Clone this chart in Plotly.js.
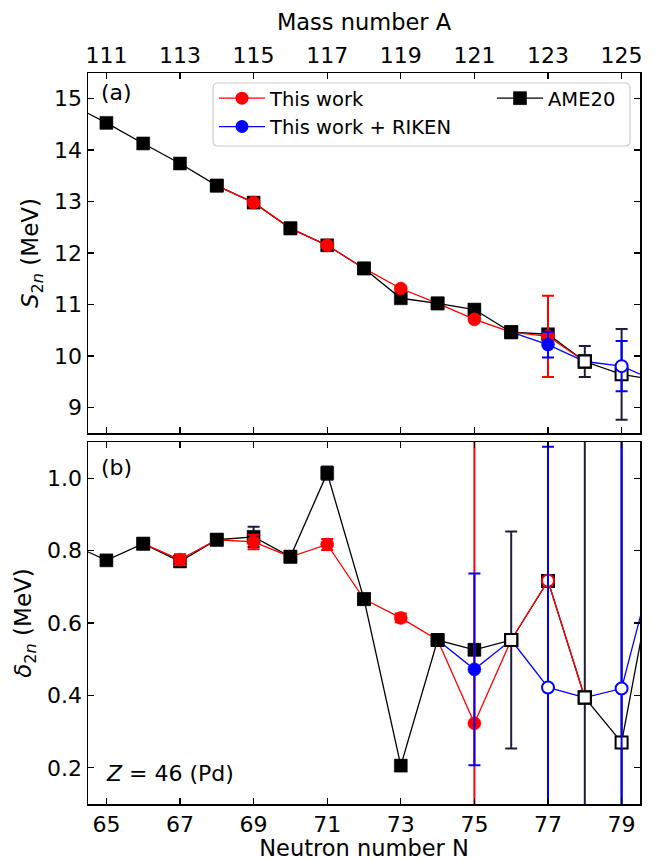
<!DOCTYPE html>
<html><head><meta charset="utf-8">
<script src="https://cdn.plot.ly/plotly-3.0.1.min.js"></script>
<style>html,body{margin:0;padding:0;background:#fff}</style>
</head><body>
<div id="chart" style="width:659px;height:861px"></div>
<script>
// ---------- data ----------
const tickN = [65, 67, 69, 71, 73, 75, 77, 79];
const massTickLabels = ['111', '113', '115', '117', '119', '121', '123', '125'];

// AME20
const ameN = [64, 65, 66, 67, 68, 69, 70, 71, 72, 73, 74, 75, 76, 77, 78, 79, 80];
const ameS2n = [14.90, 14.53, 14.13, 13.74, 13.31, 12.98, 12.48, 12.15, 11.70, 11.12, 11.02, 10.90, 10.46, 10.42, 9.89, 9.64, 9.52];
const ameS2nErr = [0.02, 0.01, 0.01, 0.02, 0.01, 0.02, 0.01, 0.01, 0.01, 0.01, 0.01, 0.02, 0.02, 0.03, 0.30, 0.88, 0.90];
const ameS2nExtrap = [0, 0, 0, 0, 0, 0, 0, 0, 0, 0, 0, 0, 0, 0, 1, 1, 1];
const ameD2n = [0.820, 0.773, 0.819, 0.770, 0.830, 0.838, 0.783, 1.014, 0.666, 0.206, 0.553, 0.526, 0.553, 0.716, 0.394, 0.270, 0.810];
const ameD2nErr = [0.01, 0.008, 0.008, 0.015, 0.008, 0.028, 0.008, 0.018, 0.008, 0.015, 0.012, 0.015, 0.30, 1.0, 1.0, 1.0, 1.0];
const ameD2nExtrap = [0, 0, 0, 0, 0, 0, 0, 0, 0, 0, 0, 0, 1, 1, 1, 1, 1];

// This work
const redS2nN = [68, 69, 70, 71, 72, 73, 74, 75, 76, 77, 78];
const redS2n = [13.31, 12.98, 12.48, 12.15, 11.70, 11.31, 11.02, 10.71, 10.46, 10.38, 9.89];
const redS2nErr = [0, 0.02, 0, 0.02, 0, 0.02, 0, 0.02, 0, 0.79, 0];
const redS2nExtrap = [0, 0, 0, 0, 0, 0, 0, 0, 0, 0, 1];
const redD2nN = [66, 67, 68, 69, 70, 71, 72, 73, 74, 75, 76, 77, 78];
const redD2n = [0.819, 0.775, 0.830, 0.824, 0.783, 0.817, 0.666, 0.614, 0.553, 0.323, 0.553, 0.717, 0.394];
const redD2nErr = [0, 0.015, 0, 0.02, 0, 0.015, 0, 0.012, 0, 0.85, 0, 1.0, 0];
const redD2nExtrap = [0, 0, 0, 0, 0, 0, 0, 0, 0, 0, 1, 1, 1];

// This work + RIKEN
const blueS2nN = [76, 77, 78, 79, 80];
const blueS2n = [10.46, 10.22, 9.89, 9.80, 9.49];
const blueS2nErr = [0, 0.25, 0, 0.49, 0];
const blueS2nExtrap = [0, 0, 1, 1, 1];
const blueD2nN = [74, 75, 76, 77, 78, 79, 80];
const blueD2n = [0.553, 0.472, 0.553, 0.422, 0.394, 0.419, 0.810];
const blueD2nErr = [0, 0.265, 0, 0.665, 0, 1.0, 0];
const blueD2nExtrap = [0, 0, 1, 1, 1, 1, 1];

// ---------- styling helpers ----------
const FONT = 'DejaVu Sans, Liberation Sans, sans-serif';
const RED = '#ff0000', BLUE = '#0000ff', BLACK = '#000000';
const AME_ERR = 'rgb(30,30,60)';

function seriesMarker(ns, open, color, allSquares) {
  return {
    opacity: 1,
    symbol: ns.map(n => (!allSquares && n % 2) ? 'circle' : 'square'),
    size: ns.map((n, i) => open[i] ? 12 : 13),
    color: ns.map((n, i) => open[i] ? '#ffffff' : ((!allSquares && n % 2) ? color : BLACK)),
    line: {
      color: ns.map(n => (!allSquares && n % 2) ? color : BLACK),
      width: ns.map((n, i) => open[i] ? 2 : 0.5)
    }
  };
}
function errBar(arr, color) {
  return {type: 'data', array: arr, visible: true, color: color, thickness: 2, width: 6};
}

const traces = [];
// top panel (S2n)
traces.push({x: ameN, y: ameS2n, xaxis: 'x2', yaxis: 'y2', mode: 'lines+markers', name: 'AME20',
  legend: 'legend2', showlegend: true,
  line: {color: BLACK, width: 1.3}, marker: seriesMarker(ameN, ameS2nExtrap, BLACK, true),
  error_y: errBar(ameS2nErr, AME_ERR)});
traces.push({x: redS2nN, y: redS2n, xaxis: 'x2', yaxis: 'y2', mode: 'lines+markers', name: 'This work',
  showlegend: false, legendgroup: 'red',
  line: {color: RED, width: 1.3}, marker: seriesMarker(redS2nN, redS2nExtrap, RED, false),
  error_y: errBar(redS2nErr, RED)});
traces.push({x: blueS2nN, y: blueS2n, xaxis: 'x2', yaxis: 'y2', mode: 'lines+markers', name: 'This work + RIKEN',
  showlegend: false, legendgroup: 'blue',
  line: {color: BLUE, width: 1.3}, marker: seriesMarker(blueS2nN, blueS2nExtrap, BLUE, false),
  error_y: errBar(blueS2nErr, BLUE)});
// bottom panel (delta 2n)
traces.push({x: ameN, y: ameD2n, xaxis: 'x', yaxis: 'y', mode: 'lines+markers', name: 'AME20',
  showlegend: false,
  line: {color: BLACK, width: 1.3}, marker: seriesMarker(ameN, ameD2nExtrap, BLACK, true),
  error_y: errBar(ameD2nErr, AME_ERR)});
traces.push({x: redD2nN, y: redD2n, xaxis: 'x', yaxis: 'y', mode: 'lines+markers', name: 'This work',
  showlegend: false, legendgroup: 'red',
  line: {color: RED, width: 1.3}, marker: seriesMarker(redD2nN, redD2nExtrap, RED, false),
  error_y: errBar(redD2nErr, RED)});
traces.push({x: blueD2nN, y: blueD2n, xaxis: 'x', yaxis: 'y', mode: 'lines+markers', name: 'This work + RIKEN',
  showlegend: false, legendgroup: 'blue',
  line: {color: BLUE, width: 1.3}, marker: seriesMarker(blueD2nN, blueD2nExtrap, BLUE, false),
  error_y: errBar(blueD2nErr, BLUE)});
// legend entries for the two "this work" series
traces.push({x: [null], y: [null], xaxis: 'x2', yaxis: 'y2', mode: 'lines+markers', name: 'This work',
  legend: 'legend', legendgroup: 'red', legendrank: 1,
  line: {color: RED, width: 1.3}, marker: {symbol: 'circle', size: 13, color: RED, opacity: 1}});
traces.push({x: [null], y: [null], xaxis: 'x2', yaxis: 'y2', mode: 'lines+markers', name: 'This work + RIKEN',
  legend: 'legend', legendgroup: 'blue', legendrank: 2,
  line: {color: BLUE, width: 1.3}, marker: {symbol: 'circle', size: 13, color: BLUE, opacity: 1}});

// ---------- layout ----------
const L = 88, R = 640, T = 73, B = 804, W = 659, H = 861;
const px2x = p => (p - L) / (R - L);
const px2y = p => (B - p) / (B - T);

const axisCommon = {
  ticks: 'inside', ticklen: 6, tickwidth: 1.3, tickcolor: BLACK,
  showline: true, linewidth: 1.5, linecolor: BLACK, mirror: 'ticks',
  showgrid: false, zeroline: false,
  tickfont: {family: FONT, size: 22, color: BLACK}
};

const layout = {
  width: W, height: H,
  margin: {l: L, r: W - R, t: T, b: H - B, pad: 0},
  paper_bgcolor: '#ffffff', plot_bgcolor: '#ffffff',
  font: {family: FONT, color: BLACK},
  showlegend: true,
  xaxis: Object.assign({}, axisCommon, {
    anchor: 'y', domain: [0, 1], range: [64.5, 79.5],
    tickmode: 'array', tickvals: tickN,
    title: {text: 'Neutron number N', font: {family: FONT, size: 22.5}, standoff: 6}
  }),
  xaxis2: Object.assign({}, axisCommon, {
    anchor: 'y2', domain: [0, 1], matches: 'x', side: 'top',
    tickmode: 'array', tickvals: tickN, ticktext: massTickLabels,
    title: {text: 'Mass number A', font: {family: FONT, size: 22.5}, standoff: 6}
  }),
  yaxis: Object.assign({}, axisCommon, {
    anchor: 'x', domain: [0, px2y(442)], range: [0.1, 1.1],
    tickmode: 'array', tickvals: [0.2, 0.4, 0.6, 0.8, 1.0], tickformat: '.1f',
    title: {text: '<i>δ</i><sub>2<i>n</i></sub> (MeV)', font: {family: FONT, size: 23}, standoff: 9}
  }),
  yaxis2: Object.assign({}, axisCommon, {
    anchor: 'x2', domain: [px2y(433), 1], range: [8.5, 15.5],
    tickmode: 'array', tickvals: [9, 10, 11, 12, 13, 14, 15],
    title: {text: '<i>S</i><sub>2<i>n</i></sub> (MeV)', font: {family: FONT, size: 23}, standoff: 9}
  }),
  legend: {
    x: px2x(214), y: px2y(79), xanchor: 'left', yanchor: 'top',
    xref: 'paper', yref: 'paper',
    bgcolor: 'rgba(0,0,0,0)', borderwidth: 0,
    font: {family: FONT, size: 19.5, color: BLACK},
    itemwidth: 46, tracegroupgap: 0, traceorder: 'normal'
  },
  legend2: {
    x: px2x(492), y: px2y(79), xanchor: 'left', yanchor: 'top',
    xref: 'paper', yref: 'paper',
    bgcolor: 'rgba(0,0,0,0)', borderwidth: 0,
    font: {family: FONT, size: 19.5, color: BLACK},
    itemwidth: 46
  },
  shapes: [(function () {
    const x0 = px2x(213), x1 = px2x(630), y0 = px2y(146), y1 = px2y(83);
    const rx = 5 / (R - L), ry = 5 / (B - T);
    const p = 'M ' + (x0 + rx) + ',' + y1 + ' L ' + (x1 - rx) + ',' + y1 +
      ' Q ' + x1 + ',' + y1 + ' ' + x1 + ',' + (y1 - ry) +
      ' L ' + x1 + ',' + (y0 + ry) + ' Q ' + x1 + ',' + y0 + ' ' + (x1 - rx) + ',' + y0 +
      ' L ' + (x0 + rx) + ',' + y0 + ' Q ' + x0 + ',' + y0 + ' ' + x0 + ',' + (y0 + ry) +
      ' L ' + x0 + ',' + (y1 - ry) + ' Q ' + x0 + ',' + y1 + ' ' + (x0 + rx) + ',' + y1 + ' Z';
    return {type: 'path', xref: 'paper', yref: 'paper', path: p,
      line: {color: '#cccccc', width: 1.2}, fillcolor: 'rgba(255,255,255,0.8)', layer: 'above'};
  })()],
  annotations: [
    {text: '(a)', xref: 'paper', yref: 'paper', x: px2x(99), y: px2y(92), xanchor: 'left', yanchor: 'middle',
      showarrow: false, font: {family: FONT, size: 22, color: BLACK}},
    {text: '(b)', xref: 'paper', yref: 'paper', x: px2x(99), y: px2y(467), xanchor: 'left', yanchor: 'middle',
      showarrow: false, font: {family: FONT, size: 22, color: BLACK}},
    {text: '<i>Z</i> = 46 (Pd)', xref: 'paper', yref: 'paper', x: px2x(104), y: px2y(773), xanchor: 'left', yanchor: 'middle',
      showarrow: false, font: {family: FONT, size: 22, color: BLACK}}
  ]
};

Plotly.newPlot('chart', traces, layout, {displayModeBar: false, staticPlot: true});
</script>
</body></html>
